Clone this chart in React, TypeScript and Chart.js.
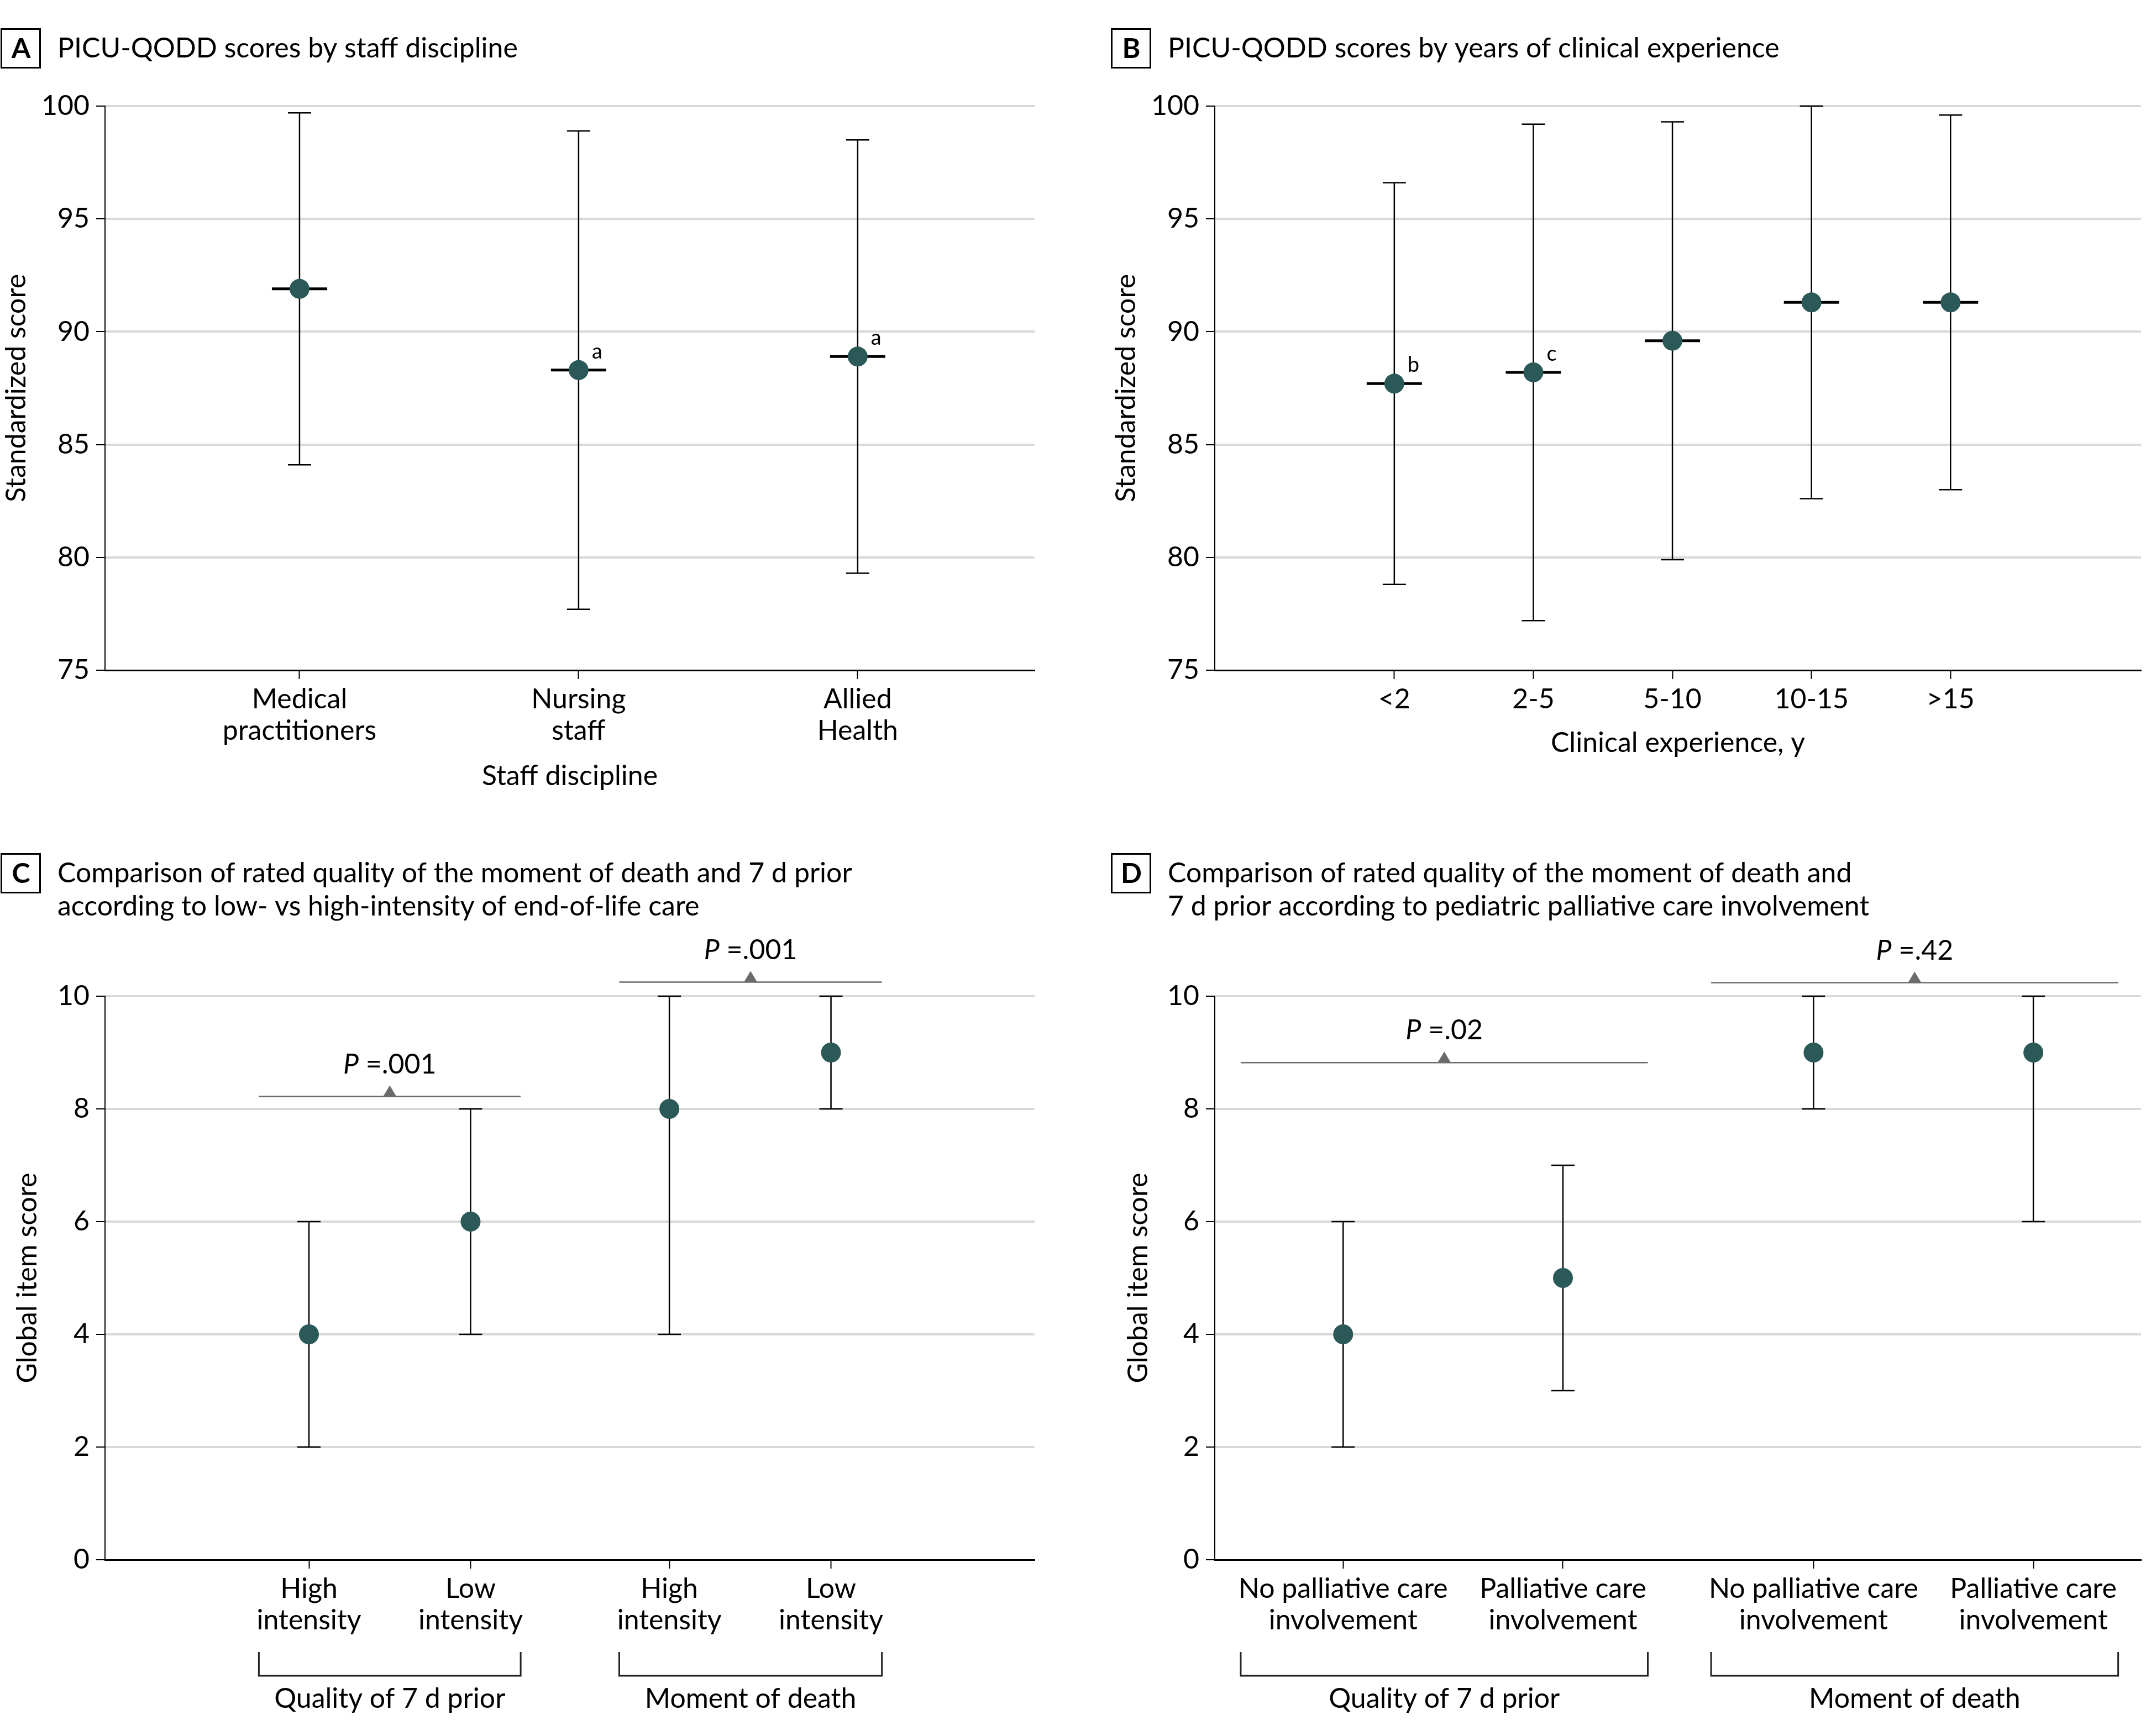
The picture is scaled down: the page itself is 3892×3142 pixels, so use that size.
import React, { useEffect, useRef } from "react";
import { Chart, registerables } from "chart.js";

Chart.register(...registerables);

const FONT = "Lato, 'Liberation Sans', Arial, sans-serif";
const MARKER = "#2a5958";

// ---------- Panel A: staff discipline ----------
const staffLabels = [["Medical", "practitioners"], ["Nursing", "staff"], ["Allied", "Health"]];
const staffPositions = [1, 2, 3];
const staffMean = [91.9, 88.3, 88.9];
const staffLower = [84.1, 77.7, 79.3];
const staffUpper = [99.7, 98.9, 98.5];
const staffNotes = ["", "a", "a"];

// ---------- Panel B: years of clinical experience ----------
const expLabels = ["<2", "2-5", "5-10", "10-15", ">15"];
const expPositions = [1, 2, 3, 4, 5];
const expMean = [87.7, 88.2, 89.6, 91.3, 91.3];
const expLower = [78.8, 77.2, 79.9, 82.6, 83.0];
const expUpper = [96.6, 99.2, 99.3, 100, 99.6];
const expNotes = ["b", "c", "", "", ""];

// ---------- Panel C: intensity of end-of-life care ----------
const intensityLabels = [["High", "intensity"], ["Low", "intensity"], ["High", "intensity"], ["Low", "intensity"]];
const intensityPositions = [1, 2, 3.23, 4.23];
const intensityMedian = [4, 6, 8, 9];
const intensityLower = [2, 4, 4, 8];
const intensityUpper = [6, 8, 10, 10];
const intensityGroups = ["Quality of 7 d prior", "Moment of death"];
const intensitySpans = [[0.69, 2.31], [2.92, 4.545]];
const intensityP = [".001", ".001"];
const intensityPLevel = [8.22, 10.25];

// ---------- Panel D: palliative care involvement ----------
const palliativeLabels = [
  ["No palliative care", "involvement"],
  ["Palliative care", "involvement"],
  ["No palliative care", "involvement"],
  ["Palliative care", "involvement"],
];
const palliativePositions = [1, 2, 3.14, 4.14];
const palliativeMedian = [4, 5, 9, 9];
const palliativeLower = [2, 3, 8, 6];
const palliativeUpper = [6, 7, 10, 10];
const palliativeGroups = ["Quality of 7 d prior", "Moment of death"];
const palliativeSpans = [[0.534, 2.386], [2.674, 4.526]];
const palliativeP = [".02", ".42"];
const palliativePLevel = [8.82, 10.24];

type Spec = {
  left: number; top: number; width: number; height: number;
  padding: { left: number; right: number; top: number; bottom: number };
  yWidth: number; xHeight: number;
  yMin: number; yMax: number; yStep: number; yTitle: string; yTitlePad: number;
  xMin: number; xMax: number; positions: number[]; labels: (string | string[])[];
  xTitle?: string; xTitlePad?: number;
  center: number[]; lower: number[]; upper: number[];
  meanBar: boolean; notes?: string[];
  letter: string; titleLines: string[]; boxX: number; boxY: number;
  pValues?: string[]; pLevels?: number[]; spans?: number[][]; groups?: string[];
};

const specs: Spec[] = [
  {
    left: 0, top: 0, width: 1946, height: 1500,
    padding: { left: 0, right: 74, top: 192, bottom: 37 },
    yWidth: 190, xHeight: 250,
    yMin: 75, yMax: 100, yStep: 5, yTitle: "Standardized score", yTitlePad: 0,
    xMin: 0.303, xMax: 3.634, positions: staffPositions, labels: staffLabels,
    xTitle: "Staff discipline", xTitlePad: 28,
    center: staffMean, lower: staffLower, upper: staffUpper, meanBar: true, notes: staffNotes,
    letter: "A", titleLines: ["PICU-QODD scores by staff discipline"], boxX: 1, boxY: 51,
  },
  {
    left: 1946, top: 0, width: 1946, height: 1500,
    padding: { left: 62, right: 12, top: 192, bottom: 87 },
    yWidth: 190, xHeight: 200,
    yMin: 75, yMax: 100, yStep: 5, yTitle: "Standardized score", yTitlePad: 0,
    xMin: -0.291, xMax: 6.37, positions: expPositions, labels: expLabels,
    xTitle: "Clinical experience, y", xTitlePad: 38,
    center: expMean, lower: expLower, upper: expUpper, meanBar: true, notes: expNotes,
    letter: "B", titleLines: ["PICU-QODD scores by years of clinical experience"], boxX: 64, boxY: 51,
  },
  {
    left: 0, top: 1500, width: 1946, height: 1642,
    padding: { left: 0, right: 74, top: 303, bottom: 169 },
    yWidth: 190, xHeight: 150,
    yMin: 0, yMax: 10, yStep: 2, yTitle: "Global item score", yTitlePad: 20,
    xMin: -0.262, xMax: 5.49, positions: intensityPositions, labels: intensityLabels,
    center: intensityMedian, lower: intensityLower, upper: intensityUpper, meanBar: false,
    letter: "C",
    titleLines: [
      "Comparison of rated quality of the moment of death and 7 d prior",
      "according to low- vs high-intensity of end-of-life care",
    ],
    boxX: 1, boxY: 44,
    pValues: intensityP, pLevels: intensityPLevel, spans: intensitySpans, groups: intensityGroups,
  },
  {
    left: 1946, top: 1500, width: 1946, height: 1642,
    padding: { left: 64, right: 12, top: 303, bottom: 169 },
    yWidth: 188, xHeight: 150,
    yMin: 0, yMax: 10, yStep: 2, yTitle: "Global item score", yTitlePad: 20,
    xMin: 0.416, xMax: 4.63, positions: palliativePositions, labels: palliativeLabels,
    center: palliativeMedian, lower: palliativeLower, upper: palliativeUpper, meanBar: false,
    letter: "D",
    titleLines: [
      "Comparison of rated quality of the moment of death and",
      "7 d prior according to pediatric palliative care involvement",
    ],
    boxX: 64, boxY: 44,
    pValues: palliativeP, pLevels: palliativePLevel, spans: palliativeSpans, groups: palliativeGroups,
  },
];

function buildChart(canvas: HTMLCanvasElement, spec: Spec) {
  const decor = {
    id: "decor",
    beforeDatasetsDraw(chart: any) {
      const { ctx } = chart;
      const xs = chart.scales.x;
      const ys = chart.scales.y;
      ctx.save();
      ctx.strokeStyle = "#000";
      spec.positions.forEach((p, i) => {
        const x = xs.getPixelForValue(p);
        const yl = ys.getPixelForValue(spec.lower[i]);
        const yu = ys.getPixelForValue(spec.upper[i]);
        ctx.lineWidth = 2.5;
        ctx.beginPath();
        ctx.moveTo(x, yl);
        ctx.lineTo(x, yu);
        ctx.moveTo(x - 21, yl);
        ctx.lineTo(x + 21, yl);
        ctx.moveTo(x - 21, yu);
        ctx.lineTo(x + 21, yu);
        ctx.stroke();
        if (spec.meanBar) {
          const ym = ys.getPixelForValue(spec.center[i]);
          ctx.lineWidth = 5;
          ctx.beginPath();
          ctx.moveTo(x - 50, ym);
          ctx.lineTo(x + 50, ym);
          ctx.stroke();
        }
      });
      ctx.restore();
    },
    afterDraw(chart: any) {
      const { ctx, chartArea } = chart;
      const xs = chart.scales.x;
      const ys = chart.scales.y;
      ctx.save();
      // header box + title
      ctx.strokeStyle = "#000";
      ctx.lineWidth = 3;
      ctx.strokeRect(spec.boxX + 1.5, spec.boxY + 1.5, 70, 70);
      ctx.fillStyle = "#000";
      ctx.font = `bold 50px ${FONT}`;
      ctx.textAlign = "center";
      ctx.textBaseline = "middle";
      ctx.fillText(spec.letter, spec.boxX + 37, spec.boxY + 38);
      ctx.font = `50px ${FONT}`;
      ctx.textAlign = "left";
      spec.titleLines.forEach((line, i) => {
        ctx.fillText(line, spec.boxX + 103, spec.boxY + 37 + i * 60);
      });
      // superscript notes
      if (spec.notes) {
        ctx.font = `38px ${FONT}`;
        ctx.textBaseline = "alphabetic";
        spec.notes.forEach((n, i) => {
          if (!n) return;
          const x = xs.getPixelForValue(spec.positions[i]);
          const y = ys.getPixelForValue(spec.center[i]);
          ctx.fillText(n, x + 24, y - 21);
        });
      }
      // P-value comparison lines
      if (spec.pValues && spec.spans && spec.pLevels) {
        spec.pValues.forEach((pv, i) => {
          const span = spec.spans![i];
          const x1 = xs.getPixelForValue(span[0]);
          const x2 = xs.getPixelForValue(span[1]);
          const y = ys.getPixelForValue(spec.pLevels![i]);
          const cx = (x1 + x2) / 2;
          ctx.strokeStyle = "#6b6b6b";
          ctx.fillStyle = "#6b6b6b";
          ctx.lineWidth = 2.5;
          ctx.beginPath();
          ctx.moveTo(x1, y);
          ctx.lineTo(x2, y);
          ctx.stroke();
          ctx.beginPath();
          ctx.moveTo(cx - 12, y);
          ctx.lineTo(cx + 12, y);
          ctx.lineTo(cx, y - 20);
          ctx.closePath();
          ctx.fill();
          ctx.fillStyle = "#000";
          ctx.textBaseline = "alphabetic";
          ctx.textAlign = "left";
          ctx.font = `italic 50px ${FONT}`;
          const wP = ctx.measureText("P").width;
          ctx.font = `50px ${FONT}`;
          const rest = " =" + pv;
          const wR = ctx.measureText(rest).width;
          const sx = cx - (wP + wR) / 2;
          ctx.font = `italic 50px ${FONT}`;
          ctx.fillText("P", sx, y - 42);
          ctx.font = `50px ${FONT}`;
          ctx.fillText(rest, sx + wP, y - 42);
        });
      }
      // group brackets below axis
      if (spec.groups && spec.spans) {
        const b = chartArea.bottom;
        spec.groups.forEach((g, i) => {
          const span = spec.spans![i];
          const x1 = xs.getPixelForValue(span[0]);
          const x2 = xs.getPixelForValue(span[1]);
          ctx.strokeStyle = "#222";
          ctx.lineWidth = 3;
          ctx.beginPath();
          ctx.moveTo(x1, b + 167);
          ctx.lineTo(x1, b + 210);
          ctx.lineTo(x2, b + 210);
          ctx.lineTo(x2, b + 167);
          ctx.stroke();
          ctx.fillStyle = "#000";
          ctx.font = `50px ${FONT}`;
          ctx.textAlign = "center";
          ctx.textBaseline = "middle";
          ctx.fillText(g, (x1 + x2) / 2, b + 252);
        });
      }
      ctx.restore();
    },
  };

  const labelFor = new Map<number, string | string[]>();
  spec.positions.forEach((p, i) => labelFor.set(p, spec.labels[i]));

  return new Chart(canvas, {
    type: "scatter",
    data: {
      datasets: [
        {
          data: spec.positions.map((x, i) => ({ x, y: spec.center[i] })),
          backgroundColor: MARKER,
          borderWidth: 0,
          pointRadius: 18,
          pointHoverRadius: 18,
          clip: false as any,
        },
      ],
    },
    options: {
      responsive: false,
      animation: false,
      devicePixelRatio: 1,
      events: [],
      layout: { padding: spec.padding },
      plugins: { legend: { display: false }, tooltip: { enabled: false } },
      scales: {
        x: {
          type: "linear",
          min: spec.xMin,
          max: spec.xMax,
          afterBuildTicks: (s: any) => {
            s.ticks = spec.positions.map((v) => ({ value: v }));
          },
          afterFit: (s: any) => {
            s.height = spec.xHeight;
            s.paddingLeft = 0;
            s.paddingRight = 0;
          },
          ticks: {
            callback: (v: any) => labelFor.get(Number(v)) ?? "",
            color: "#000",
            font: { family: FONT, size: 50, lineHeight: 1.15 },
            padding: 8,
            maxRotation: 0,
            minRotation: 0,
            autoSkip: false,
          },
          grid: {
            drawOnChartArea: false,
            drawTicks: true,
            tickLength: 16,
            tickColor: "#000",
            tickWidth: 2,
          },
          border: { color: "#000", width: 3 },
          title: spec.xTitle
            ? {
                display: true,
                text: spec.xTitle,
                color: "#000",
                font: { family: FONT, size: 50, lineHeight: 1.2 },
                padding: { top: 0, bottom: spec.xTitlePad ?? 0 },
              }
            : { display: false },
        } as any,
        y: {
          type: "linear",
          min: spec.yMin,
          max: spec.yMax,
          afterFit: (s: any) => {
            s.width = spec.yWidth;
          },
          ticks: {
            stepSize: spec.yStep,
            color: "#000",
            font: { family: FONT, size: 50 },
            padding: 12,
          },
          grid: {
            color: (c: any) => (c.tick && c.tick.value === spec.yMin ? "rgba(0,0,0,0)" : "#d9d9d9"),
            lineWidth: 4,
            drawTicks: true,
            tickLength: 16,
            tickColor: "#000",
            tickWidth: 2,
          },
          border: { color: "#000", width: 2 },
          title: {
            display: true,
            text: spec.yTitle,
            color: "#000",
            font: { family: FONT, size: 50, lineHeight: 1.2 },
            padding: { top: spec.yTitlePad, bottom: 0 },
          },
        } as any,
      },
    },
    plugins: [decor],
  } as any);
}

function Panel({ spec }: { spec: Spec }) {
  const ref = useRef<HTMLCanvasElement | null>(null);
  useEffect(() => {
    if (!ref.current) return;
    const chart = buildChart(ref.current, spec);
    return () => chart.destroy();
  }, [spec]);
  return (
    <canvas
      ref={ref}
      width={spec.width}
      height={spec.height}
      style={{ position: "absolute", left: spec.left, top: spec.top, width: spec.width, height: spec.height }}
    />
  );
}

export default function App() {
  return (
    <div style={{ position: "absolute", left: 0, top: 0, width: 3892, height: 3142, background: "#fff" }}>
      {specs.map((s) => (
        <Panel key={s.letter} spec={s} />
      ))}
    </div>
  );
}
